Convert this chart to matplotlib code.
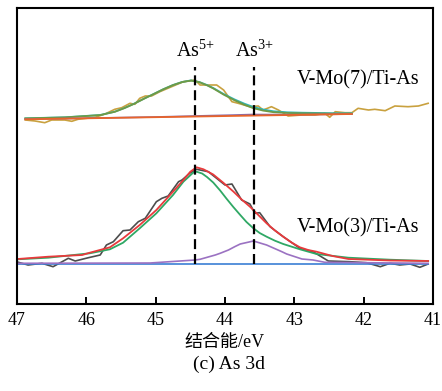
import matplotlib
matplotlib.use('Agg')
import matplotlib.pyplot as plt

plt.rcParams['font.family'] = ['Liberation Serif', 'Noto Sans CJK SC']
plt.rcParams['mathtext.fontset'] = 'custom'
plt.rcParams['mathtext.rm'] = 'Liberation Serif'
plt.rcParams['mathtext.default'] = 'regular'

# V-Mo(7)/Ti-As (upper spectrum)
top_raw_x = [46.88, 46.74, 46.60, 46.50, 46.31, 46.21, 46.12, 45.87, 45.73, 45.59,
             45.49, 45.37, 45.30, 45.23, 45.15, 45.06, 44.94, 44.79, 44.60, 44.43,
             44.36, 44.12, 44.02, 43.90, 43.81, 43.64, 43.52, 43.45, 43.33, 43.23,
             43.09, 42.89, 42.70, 42.56, 42.49, 42.41, 42.27, 42.17, 42.08, 41.93,
             41.84, 41.69, 41.55, 41.36, 41.21, 41.07]
top_raw_y = [184.0, 183.0, 181.3, 184.0, 184.0, 182.7, 184.7, 186.7, 190.0, 194.7,
             196.3, 200.7, 199.7, 205.7, 208.0, 208.0, 212.3, 216.7, 222.3, 224.0,
             219.0, 219.0, 214.0, 202.3, 200.7, 197.3, 198.0, 194.0, 197.3, 194.0,
             188.0, 189.0, 189.0, 190.7, 186.7, 192.3, 191.3, 191.3, 195.7, 194.0,
             194.7, 193.3, 198.0, 197.3, 198.0, 200.7]

top_fit_x = [46.88, 46.31, 45.80, 45.59, 45.45, 45.32, 45.17, 45.03, 44.89, 44.75,
             44.62, 44.49, 44.37, 44.26, 44.17, 44.02, 43.86, 43.72, 43.59, 43.45,
             43.30, 43.10, 42.89, 42.44, 42.17]
top_env_y = [185.7, 186.7, 189.0, 192.3, 196.0, 200.0, 205.3, 210.0, 214.8, 219.0,
             222.0, 223.6, 222.0, 219.0, 216.0, 210.0, 204.5, 200.3, 197.0, 194.5,
             192.7, 191.7, 191.3, 190.8, 190.7]
top_as5_y = [185.6, 186.6, 188.9, 192.2, 195.9, 199.9, 205.2, 209.9, 214.7, 218.9,
             221.9, 223.4, 221.8, 218.7, 215.6, 209.4, 203.6, 199.2, 195.8, 193.4,
             191.8, 191.0, 190.7, 190.3, 190.2]
top_as3_x = [46.88, 45.00, 44.20, 43.90, 43.60, 43.30, 43.00, 42.60, 42.17]
top_as3_y = [184.8, 187.0, 188.4, 188.9, 189.5, 189.4, 189.3, 189.6, 190.0]
top_bg_x = [46.88, 42.17]
top_bg_y = [184.7, 190.0]

# V-Mo(3)/Ti-As (lower spectrum)
bot_raw_x = [46.98, 46.84, 46.64, 46.48, 46.26, 46.16, 45.97, 45.80, 45.71, 45.61,
             45.47, 45.37, 45.25, 45.15, 44.99, 44.91, 44.82, 44.67, 44.62, 44.50,
             44.41, 44.31, 44.24, 44.00, 43.90, 43.76, 43.64, 43.57, 43.50, 43.35,
             43.16, 42.92, 42.73, 42.51, 42.20, 41.96, 41.76, 41.62, 41.48, 41.33,
             41.19, 41.07]
bot_raw_y = [41.7, 39.0, 40.7, 37.3, 45.7, 43.0, 46.3, 49.0, 59.0, 62.3,
             73.3, 74.0, 82.3, 85.7, 102.3, 105.7, 108.0, 122.3, 124.0, 131.3,
             134.7, 133.3, 132.3, 119.0, 120.0, 104.0, 100.0, 90.7, 91.3, 77.3,
             67.3, 55.7, 52.3, 43.0, 42.3, 41.3, 37.3, 40.7, 39.0, 40.0,
             36.7, 40.0]

bot_env_x = [46.99, 46.55, 46.06, 45.95, 45.66, 45.47, 45.23, 44.99, 44.75, 44.60,
             44.50, 44.41, 44.31, 44.17, 44.02, 43.88, 43.76, 43.64, 43.52, 43.40,
             43.28, 43.16, 43.04, 42.92, 42.80, 42.68, 42.45, 42.22, 41.62, 41.07]
bot_env_y = [45.0, 47.3, 49.0, 51.3, 56.7, 65.7, 79.0, 94.0, 112.3, 124.0,
             132.3, 136.7, 134.7, 129.5, 121.0, 112.5, 104.5, 97.3, 89.0, 80.7,
             73.5, 67.3, 61.5, 56.7, 54.0, 52.3, 48.0, 45.0, 43.5, 43.0]

bot_as5_x = [46.99, 46.55, 45.95, 45.66, 45.47, 45.23, 44.99, 44.75, 44.60, 44.46,
             44.41, 44.33, 44.26, 44.17, 44.07, 43.98, 43.88, 43.78, 43.69, 43.59,
             43.50, 43.40, 43.28, 43.16, 42.92, 42.68, 42.22, 41.62, 41.07]
bot_as5_y = [44.7, 46.3, 50.7, 54.7, 61.3, 75.7, 90.7, 109.0, 122.3, 131.3,
             132.3, 130.5, 127.0, 121.5, 113.5, 105.5, 97.0, 89.0, 82.0, 75.7,
             71.0, 67.3, 63.3, 60.0, 54.7, 50.0, 46.3, 44.3, 43.0]

bot_as3_x = [47.00, 45.08, 44.43, 44.36, 44.14, 44.07, 43.95, 43.86, 43.78, 43.59,
             43.40, 43.18, 43.11, 42.89, 42.73, 42.56, 41.07]
bot_as3_y = [40.7, 41.0, 44.0, 44.7, 49.0, 50.7, 54.0, 57.3, 60.0, 63.0,
             59.0, 52.3, 50.0, 45.0, 44.0, 41.7, 40.7]

bot_bg_x = [47.00, 41.07]
bot_bg_y = [39.7, 39.7]

# peak positions (eV)
peak_pos = [44.43, 43.58]
peak_lbl = ['As$^{5{+}}$', 'As$^{3{+}}$']

fig = plt.figure(figsize=(4.42, 3.91), dpi=100)
ax = fig.add_axes([17/442, 87/391, 416/442, 296/391])

ax.plot(top_raw_x, top_raw_y, color='#c9a13f', lw=1.2)
ax.plot(top_fit_x, top_env_y, color='#2fb5b5', lw=1.3)
ax.plot(top_fit_x, top_as5_y, color='#6f9a45', lw=1.3)
ax.plot(top_as3_x, top_as3_y, color='#8a6aa8', lw=1.2)
ax.plot(top_bg_x, top_bg_y, color='#e8642a', lw=1.3)

ax.plot(bot_raw_x, bot_raw_y, color='#4d4d4d', lw=1.2)
ax.plot(bot_bg_x, bot_bg_y, color='#3b7fd4', lw=1.2)
ax.plot(bot_as3_x, bot_as3_y, color='#9b72c2', lw=1.2)
ax.plot(bot_as5_x, bot_as5_y, color='#2fa865', lw=1.3)
ax.plot(bot_env_x, bot_env_y, color='#e83a3c', lw=1.3)

for p, t in zip(peak_pos, peak_lbl):
    ax.vlines(p, 40, 237, colors='black', lw=1.6, linestyles=(0, (4.5, 2.2)))
    ax.text(p, 247, t, ha='center', va='baseline', fontsize=14.5)

ax.text(41.2, 224, 'V-Mo(7)/Ti-As', ha='right', va='center', fontsize=14.5)
ax.text(41.2, 76, 'V-Mo(3)/Ti-As', ha='right', va='center', fontsize=14.5)

ax.set_xlim(47, 41)
ax.set_ylim(0, 296)
ax.set_xticks([47, 46, 45, 44, 43, 42, 41])
ax.set_yticks([])
ax.tick_params(axis='x', direction='in', length=5, width=1.4, labelsize=13, pad=6)
for s in ax.spines.values():
    s.set_linewidth(1.5)
ax.set_xlabel('结合能/eV', fontsize=13, labelpad=3)
fig.text(0.5 + 8/442, 1 - 364/391, '(c) As 3d', ha='center', va='center', fontsize=14)

fig.savefig('out.png', dpi=100)
